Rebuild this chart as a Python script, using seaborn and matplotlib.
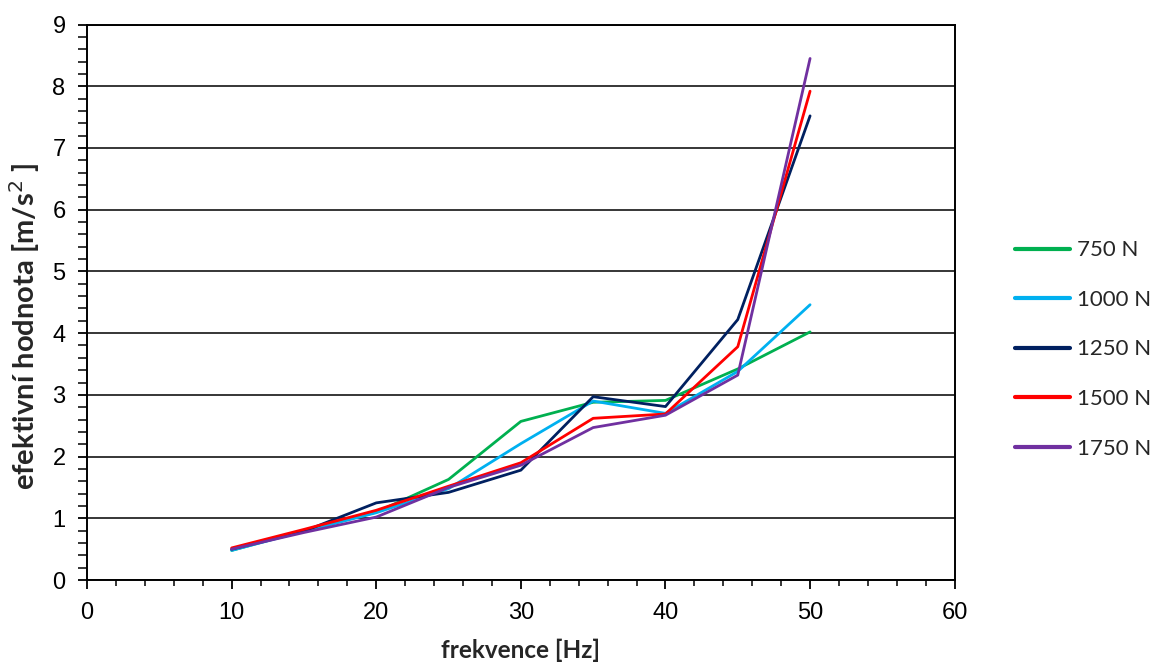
import matplotlib
matplotlib.use("Agg")
import matplotlib.pyplot as plt
from matplotlib.ticker import MultipleLocator
import seaborn as sns
import pandas as pd

# data
frekvence = [10, 15, 20, 25, 30, 35, 40, 45, 50]
hodnoty_750 = [0.48, 0.80, 1.10, 1.63, 2.57, 2.88, 2.91, 3.42, 4.02]
hodnoty_1000 = [0.48, 0.79, 1.09, 1.48, 2.21, 2.90, 2.70, 3.38, 4.46]
hodnoty_1250 = [0.50, 0.79, 1.25, 1.42, 1.78, 2.97, 2.81, 4.22, 7.52]
hodnoty_1500 = [0.52, 0.82, 1.13, 1.52, 1.90, 2.62, 2.69, 3.78, 7.92]
hodnoty_1750 = [0.50, 0.77, 1.02, 1.50, 1.86, 2.47, 2.67, 3.32, 8.45]
sily = ["750 N", "1000 N", "1250 N", "1500 N", "1750 N"]
barvy = ["#00B050", "#00B0F0", "#002060", "#FF0000", "#7030A0"]

serie = [hodnoty_750, hodnoty_1000, hodnoty_1250, hodnoty_1500, hodnoty_1750]
df = pd.DataFrame({
    "frekvence": frekvence * len(sily),
    "hodnota": [v for s in serie for v in s],
    "sila": [n for n in sily for _ in frekvence],
})

sns.set_style("white")
plt.rcParams["font.family"] = ["Liberation Sans", "DejaVu Sans"]

fig = plt.figure(figsize=(11.53, 6.68), dpi=100)
ax = fig.add_axes([0.0755, 0.1317, 0.7525, 0.8316])

sns.lineplot(data=df, x="frekvence", y="hodnota", hue="sila", hue_order=sily,
             palette=barvy, linewidth=2.0, ax=ax, legend=True)

ax.set_xlim(0, 60)
ax.set_ylim(0, 9)
ax.xaxis.set_major_locator(MultipleLocator(10))
ax.xaxis.set_minor_locator(MultipleLocator(2))
ax.yaxis.set_major_locator(MultipleLocator(1))
ax.yaxis.set_minor_locator(MultipleLocator(0.2))
ax.grid(axis="y", which="major", color="black", linewidth=1.1)
ax.set_axisbelow(True)
for sp in ax.spines.values():
    sp.set_visible(True)
    sp.set_color("black")
    sp.set_linewidth(1.4)
ax.tick_params(axis="both", which="major", direction="out", length=6.5, width=1.3,
               labelsize=17, colors="black", bottom=True, left=True)
ax.tick_params(axis="x", which="minor", direction="out", length=4, width=1.3, bottom=True)
ax.tick_params(axis="y", which="minor", direction="out", length=6.5, width=1.3, left=True)
ax.tick_params(axis="x", which="major", pad=9)
ax.tick_params(axis="y", which="major", pad=9)

ax.set_xlabel("frekvence [Hz]", fontsize=17.5, fontweight="bold", family="Lato")
ax.xaxis.set_label_coords(0.5, -0.105)
ax.set_ylabel("efektivní hodnota [m/s$^2$ ]", fontsize=21, fontweight="bold", family="Lato")
ax.yaxis.set_label_coords(-0.052, 0.457)

leg = ax.legend(loc="center left", bbox_to_anchor=(1.069, 0.415), frameon=False,
                prop={"family": "Lato", "size": 16}, handlelength=2.5,
                handletextpad=0.3, labelspacing=1.33, borderaxespad=0, borderpad=0)
for h in leg.get_lines():
    h.set_linewidth(3)

fig.savefig("out.png", dpi=100)
